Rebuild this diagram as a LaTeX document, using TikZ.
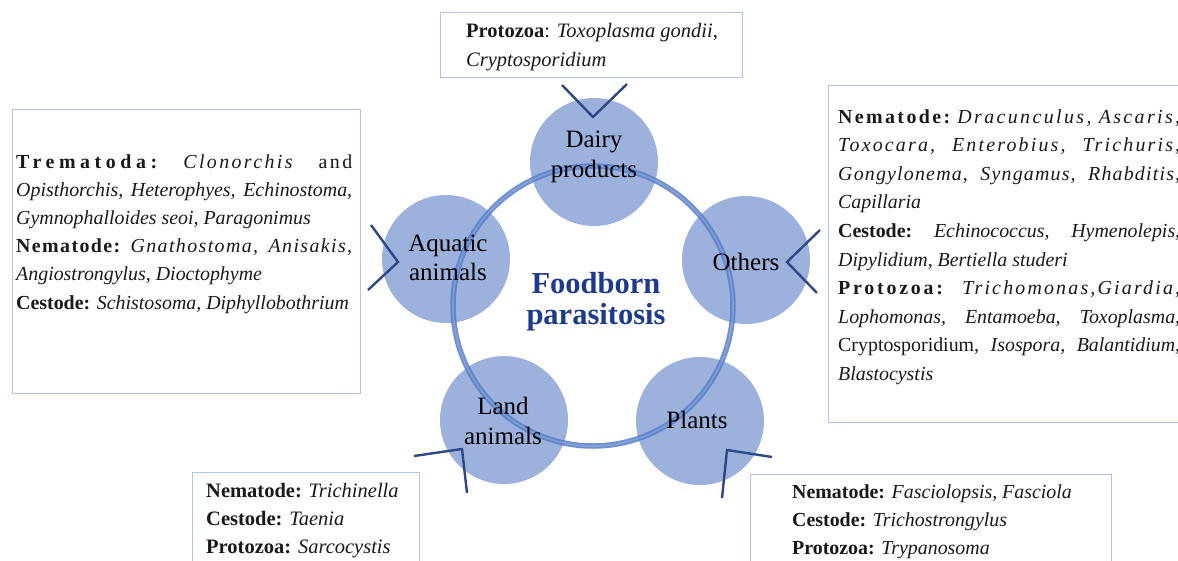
\documentclass[tikz,border=0pt]{standalone}
\usepackage{fontspec}
\setmainfont{Liberation Serif}
\newfontfamily\lsA[LetterSpace=6]{Liberation Serif}
\newfontfamily\lsB[LetterSpace=7]{Liberation Serif}
\newfontfamily\lsC[LetterSpace=11]{Liberation Serif}
\newfontfamily\lsD[LetterSpace=12]{Liberation Serif}
\newfontfamily\lsE[LetterSpace=14]{Liberation Serif}
\newfontfamily\lsF[LetterSpace=23]{Liberation Serif}
\newcommand\jline[2]{\hbox to #1{\frenchspacing\spaceskip=.25em plus 1fil minus .12em\relax#2}}
\definecolor{circ}{RGB}{156,178,221}
\definecolor{ringdark}{RGB}{88,124,200}
\definecolor{ringlight}{RGB}{150,176,226}
\definecolor{conn}{RGB}{45,72,132}
\definecolor{boxc}{RGB}{178,196,228}
\definecolor{titlec}{RGB}{28,58,142}
\tikzset{
  topic/.style={circle, fill=circ, minimum size=128pt, inner sep=0pt},
  topiclabel/.style={align=center, inner sep=0pt, font=\fontsize{25}{29.5}\selectfont, text=black},
  infobox/.style={draw=boxc, line width=1.1pt, fill=white, inner sep=0pt, anchor=north west},
  txt/.style={anchor=base west, inner sep=0pt, font=\fontsize{20.5}{24}\selectfont, text=black!90},
  txts/.style={txt, font=\fontsize{19.9}{24}\selectfont},
  tail/.style={draw=conn, line width=2.4pt, line join=miter},
}
\begin{document}
\begin{tikzpicture}[x=1pt, y=-1pt]
\useasboundingbox (0,0) rectangle (1178,560);
\clip (0,0) rectangle (1178,560);
% info boxes
\node[infobox, minimum width=302pt, minimum height=65pt] (box-top) at (440,12) {};
\node[infobox, minimum width=348pt, minimum height=284pt] (box-left) at (12,109) {};
\node[infobox, minimum width=370pt, minimum height=337pt] (box-right) at (828,85) {};
\node[infobox, minimum width=227pt, minimum height=120pt] (box-bl) at (192,472) {};
\node[infobox, minimum width=361pt, minimum height=120pt] (box-br) at (750,474) {};
% circles
\node[topic] (c-dairy) at (594,162) {};
\node[topic] (c-aquatic) at (446,259) {};
\node[topic] (c-others) at (746,260) {};
\node[topic] (c-land) at (504,420) {};
\node[topic] (c-plants) at (700,421) {};
% ring
\coordinate (ringc) at (593,306);
\draw[ringdark, line width=5.5pt, opacity=.85] (ringc) circle[radius=140pt];
\draw[ringlight, line width=1.8pt, opacity=.5] (ringc) circle[radius=140pt];
% circle labels
\node[topiclabel] (t-dairy) at (594,157) {Dairy\\products};
\node[topiclabel] (t-aquatic) at (448,258) {Aquatic\\animals};
\node[topiclabel] (t-others) at (746,262) {Others};
\node[topiclabel] (t-land) at (503,421) {Land\\animals};
\node[topiclabel] (t-plants) at (697,420) {Plants};
\node[align=center, inner sep=0pt, text=titlec, font=\fontsize{30.5}{31}\selectfont\bfseries] (title) at (596,302) {Foodborn\\parasitosis};
% tails
\coordinate (ta1) at (562,85); \coordinate (ta2) at (593,117); \coordinate (ta3) at (627,84);
\draw[tail] (ta1) -- (ta2) -- (ta3);
\coordinate (tb1) at (371,225); \coordinate (tb2) at (398,262); \coordinate (tb3) at (368,290);
\draw[tail] (tb1) -- (tb2) -- (tb3);
\coordinate (tc1) at (820,230); \coordinate (tc2) at (787,262); \coordinate (tc3) at (817,293);
\draw[tail] (tc1) -- (tc2) -- (tc3);
\coordinate (td1) at (414,456); \coordinate (td2) at (462,449); \coordinate (td3) at (467,493);
\draw[tail] (td1) -- (td2) -- (td3);
\coordinate (te1) at (772,457); \coordinate (te2) at (727,450); \coordinate (te3) at (722,498);
\draw[tail] (te1) -- (te2) -- (te3);
% top box text
\node[txt] (top1) at (466,37) {\textbf{Protozoa}: \textit{Toxoplasma gondii},};
\node[txt] (top2) at (466,66) {\textit{Cryptosporidium}};
% left box text
\node[txts] (l1) at (16,168) {\jline{336pt}{{\lsF\bfseries Trematoda:} {\lsD\itshape Clonorchis} {\lsD and}}};
\node[txts] (l2) at (16,196.2) {\jline{336pt}{\itshape Opisthorchis, Heterophyes, Echinostoma,}};
\node[txts] (l3) at (16,224.4) {\textit{Gymnophalloides seoi, Paragonimus}};
\node[txts] (l4) at (16,252.6) {\jline{336pt}{{\lsB\bfseries Nematode:} {\lsB\itshape Gnathostoma, Anisakis,}}};
\node[txts] (l5) at (16,280.8) {\textit{Angiostrongylus, Dioctophyme}};
\node[txts] (l6) at (16,309) {\textbf{Cestode:} \textit{Schistosoma, Diphyllobothrium}};
% right box text
\node[txts] (r1) at (838,123) {\jline{342pt}{{\lsD\bfseries Nematode:} {\lsD\itshape Dracunculus, Ascaris,}}};
\node[txts] (r2) at (838,151.6) {\jline{342pt}{\lsC\itshape Toxocara, Enterobius, Trichuris,}};
\node[txts] (r3) at (838,180.2) {\jline{342pt}{\lsA\itshape Gongylonema, Syngamus, Rhabditis,}};
\node[txts] (r4) at (838,208.8) {\textit{Capillaria}};
\node[txts] (r5) at (838,237.4) {\jline{342pt}{{\bfseries Cestode:} {\itshape Echinococcus, Hymenolepis,}}};
\node[txts] (r6) at (838,266) {\textit{Dipylidium, Bertiella studeri}};
\node[txts] (r7) at (838,294.6) {\jline{342pt}{{\lsE\bfseries Protozoa:} {\lsC\itshape Trichomonas,Giardia,}}};
\node[txts] (r8) at (838,323.2) {\jline{342pt}{\itshape Lophomonas, Entamoeba, Toxoplasma,}};
\node[txts] (r9) at (838,351.8) {\jline{342pt}{Cryptosporidium, \textit{Isospora, Balantidium,}}};
\node[txts] (r10) at (838,380.4) {\textit{Blastocystis}};
% bottom-left text
\node[txt] (bl1) at (206,497) {\textbf{Nematode:} \textit{Trichinella}};
\node[txt] (bl2) at (206,525) {\textbf{Cestode:} \textit{Taenia}};
\node[txt] (bl3) at (206,553) {\textbf{Protozoa:} \textit{Sarcocystis}};
% bottom-right text
\node[txts] (br1) at (792,498) {\textbf{Nematode:} \textit{Fasciolopsis, Fasciola}};
\node[txts] (br2) at (792,526) {\textbf{Cestode:} \textit{Trichostrongylus}};
\node[txts] (br3) at (792,554) {\textbf{Protozoa:} \textit{Trypanosoma}};
\end{tikzpicture}
\end{document}
